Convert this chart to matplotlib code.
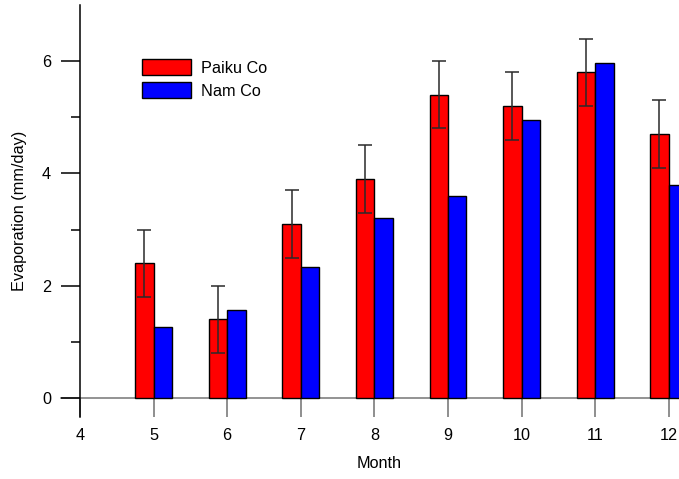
import matplotlib
matplotlib.use('Agg')
import matplotlib.pyplot as plt
import numpy as np

plt.rcParams['font.family'] = ['Liberation Sans', 'DejaVu Sans']

# monthly evaporation (mm/day)
months = [5, 6, 7, 8, 9, 10, 11, 12]
paiku = [2.4, 1.4, 3.1, 3.9, 5.4, 5.2, 5.8, 4.7]
paiku_err = [0.6, 0.6, 0.6, 0.6, 0.6, 0.6, 0.6, 0.6]
namco = [1.26, 1.56, 2.33, 3.21, 3.59, 4.95, 5.96, 3.79]
xticks = [4, 5, 6, 7, 8, 9, 10, 11, 12]

fs = 11.7

fig = plt.figure(figsize=(6.79, 4.79), dpi=100)
ax = fig.add_axes([80 / 679, 62 / 479, 599 / 679, 412 / 479])

x = np.array(months, dtype=float)
w = 0.25
ax.bar(x - w / 2, paiku, w, color='#ff0000', edgecolor='black', linewidth=1.0,
       label='Paiku Co', zorder=2)
ax.bar(x + w / 2, namco, w, color='#0000ff', edgecolor='black', linewidth=1.0,
       label='Nam Co', zorder=2)
ax.errorbar(x - w / 2, paiku, yerr=paiku_err, fmt='none', ecolor='#2a2a2a',
            elinewidth=1.1, capsize=5, capthick=1.1, zorder=3)

ax.set_xlim(4, 12.14)
ax.set_ylim(-0.34, 7.0)

# zero line across the plot, bottom ticks hang from it
ax.spines['top'].set_visible(False)
ax.spines['right'].set_visible(False)
ax.spines['bottom'].set_position(('data', 0))
ax.spines['bottom'].set_visible(False)
ax.axhline(0, xmin=-19 / 599, xmax=1, color='#808080', linewidth=1.2,
           clip_on=False, zorder=1)
ax.spines['left'].set_color('black')
ax.spines['left'].set_linewidth(1.1)

ax.set_xticks(xticks)
ax.set_yticks([0, 2, 4, 6])
ax.set_yticks([1, 3, 5], minor=True)
ax.tick_params(axis='x', direction='out', length=13.7, width=1.1,
               color='#707070', pad=8, labelsize=fs)
ax.tick_params(axis='y', which='major', direction='out', length=13.7,
               width=1.1, color='black', pad=7, labelsize=fs)
ax.tick_params(axis='y', which='minor', direction='out', length=6.5,
               width=1.1, color='black')

ax.set_xlabel('Month', fontsize=fs, labelpad=9)
ax.set_ylabel('Evaporation (mm/day)', fontsize=fs, labelpad=11)

ax.legend(loc='upper left', bbox_to_anchor=(0.1035, 0.869), frameon=False,
          fontsize=fs, borderpad=0, borderaxespad=0, handlelength=3.0,
          handleheight=1.15, handletextpad=0.65, labelspacing=0.42)

fig.savefig('out.png', dpi=100)
